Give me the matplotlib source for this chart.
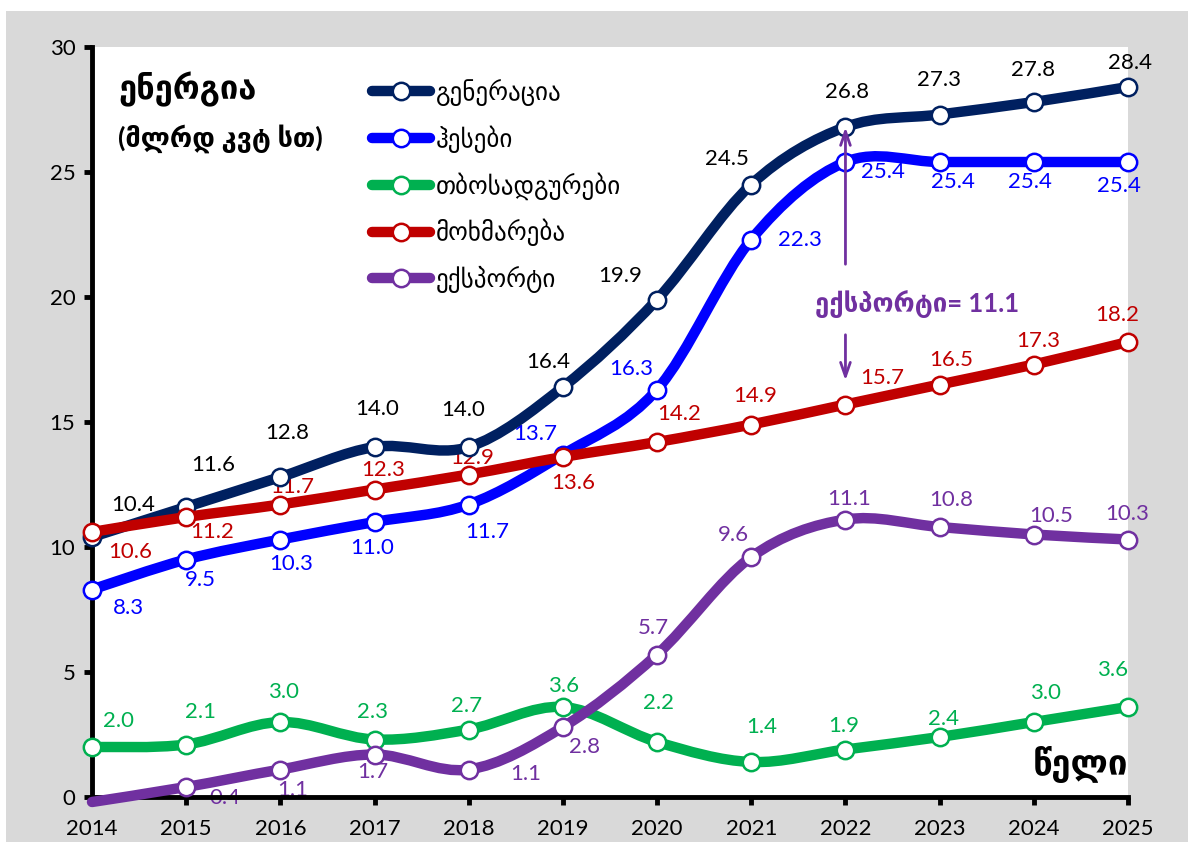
import numpy as np
import matplotlib
matplotlib.use("Agg")
import matplotlib.pyplot as plt
from matplotlib.path import Path
from matplotlib.patches import PathPatch, Rectangle
from matplotlib.lines import Line2D

plt.rcParams['font.family'] = ['Lato', 'DejaVu Sans']

years = list(range(2014, 2026))
generation = [10.4, 11.6, 12.8, 14.0, 14.0, 16.4, 19.9, 24.5, 26.8, 27.3, 27.8, 28.4]
hpp = [8.3, 9.5, 10.3, 11.0, 11.7, 13.7, 16.3, 22.3, 25.4, 25.4, 25.4, 25.4]
tpp = [2.0, 2.1, 3.0, 2.3, 2.7, 3.6, 2.2, 1.4, 1.9, 2.4, 3.0, 3.6]
consumption = [10.6, 11.2, 11.7, 12.3, 12.9, 13.6, 14.2, 14.9, 15.7, 16.5, 17.3, 18.2]
export = [-0.2, 0.4, 1.1, 1.7, 1.1, 2.8, 5.7, 9.6, 11.1, 10.8, 10.5, 10.3]

names = ['გენერაცია', 'ჰესები', 'თბოსადგურები', 'მოხმარება', 'ექსპორტი']
colors = ['#002060', '#0000ff', '#00b050', '#c00000', '#7030a0']
label_colors = ['black', '#0000ff', '#00b050', '#c00000', '#7030a0']

# label offsets from each marker, in pixels (dx, dy)
offsets = [
    [(41, 32), (27, 42), (7, 44), (3, 38), (-6, 37), (-15, 25), (-37, 24), (-24, 26), (2, 35), (-1, 35), (-1, 32), (2, 24)],
    [(36, -19), (14, -20), (11, -25), (-2, -26), (18, -27), (-28, 21), (-26, 21), (49, 0), (37, -10), (13, -20), (-4, -20), (-9, -24)],
    [(26, 26), (14, 32), (3, 30), (-2, 28), (-2, 24), (1, 21), (1, 39), (10, 35), (-2, 23), (4, 18), (12, 29), (-15, 37)],
    [(38, -20), (26, -15), (12, 18), (9, 20), (3, 17), (10, -26), (22, 28), (4, 29), (37, 27), (12, 25), (4, 24), (-11, 27)],
    [None, (39, -11), (12, -21), (-2, -17), (57, -5), (22, -20), (-4, 27), (-18, 22), (4, 21), (12, 27), (17, 18), (-1, 26)],
]


def smooth_path(x, y):
    # cubic bezier through the points, Catmull-Rom style like spreadsheet smoothing
    x = np.asarray(x, float)
    y = np.asarray(y, float)
    pts = np.column_stack([x, y])
    n = len(pts)
    verts = [pts[0]]
    codes = [Path.MOVETO]
    for i in range(n - 1):
        p0 = pts[i - 1] if i > 0 else pts[i]
        p1 = pts[i]
        p2 = pts[i + 1]
        p3 = pts[i + 2] if i + 2 < n else pts[i + 1]
        c1 = p1 + (p2 - p0) / 6.0
        c2 = p2 - (p3 - p1) / 6.0
        verts += [c1, c2, p2]
        codes += [Path.CURVE4] * 3
    return Path(verts, codes)


fig = plt.figure(figsize=(11.88, 8.42), dpi=100)
fig.patch.set_facecolor('white')
fig.patches.append(Rectangle((6 / 1188, 0), 1, 1 - 11 / 842, transform=fig.transFigure,
                             facecolor='#d9d9d9', edgecolor='none', zorder=-10))

ax = fig.add_axes([92 / 1188, 45 / 842, 1036 / 1188, 750 / 842])
ax.set_facecolor('white')
ax.set_xlim(2014, 2025)
ax.set_ylim(0, 30)

series = [generation, hpp, tpp, consumption, export]
for k, (vals, col) in enumerate(zip(series, colors)):
    patch = PathPatch(smooth_path(years, vals), facecolor='none', edgecolor=col, lw=7.5,
                      capstyle='round', joinstyle='round', zorder=3 + k, clip_on=False)
    ax.add_patch(patch)
    # points below the axis get no marker
    shown = [(yr, v) for yr, v in zip(years, vals) if v >= 0]
    ax.plot([p[0] for p in shown], [p[1] for p in shown], 'o', ms=12.5, mfc='white', mec=col,
            mew=1.8, ls='none', zorder=3.5 + k, clip_on=False)
    for i, v in enumerate(vals):
        off = offsets[k][i]
        if off is None:
            continue
        ax.annotate(f'{v:.1f}', (years[i], v), xytext=off, textcoords='offset pixels',
                    ha='center', va='center', fontsize=16, color=label_colors[k], zorder=2)

# axes styling
for s in ['top', 'right']:
    ax.spines[s].set_visible(False)
for s in ['left', 'bottom']:
    ax.spines[s].set_linewidth(3.5)
ax.set_yticks(range(0, 31, 5))
ax.set_xticks(years)
ax.tick_params(axis='both', direction='out', length=6, width=3.5, labelsize=16, pad=6)
ax.tick_params(axis='x', pad=10)

# titles
ax.text(0.025, 0.943, 'ენერგია', transform=ax.transAxes, fontsize=23.5, fontweight='bold',
        ha='left', va='center')
ax.text(0.025, 0.878, '(მლრდ კვტ სთ)', transform=ax.transAxes, fontsize=19.5, fontweight='bold',
        ha='left', va='center')
ax.text(1.0, 0.043, 'წელი', transform=ax.transAxes, fontsize=25, fontweight='bold',
        ha='right', va='center')

# export gap annotation in 2022
i22 = years.index(2022)
ax.annotate('', xy=(2022, generation[i22] + 0.1), xytext=(2022, 21.2),
            arrowprops=dict(arrowstyle='->,head_length=1.0,head_width=0.35', color='#7030a0', lw=2),
            zorder=20)
ax.annotate('', xy=(2022, consumption[i22] + 0.85), xytext=(2022, 18.6),
            arrowprops=dict(arrowstyle='->,head_length=1.0,head_width=0.35', color='#7030a0', lw=2),
            zorder=20)
ax.text(2022.76, 19.7, f'ექსპორტი= {export[i22]:.1f}', fontsize=18.5, fontweight='bold',
        color='#7030a0', ha='center', va='center', zorder=20)

# legend
handles = [Line2D([0], [0], color=c, lw=7.5, solid_capstyle='round', marker='o', ms=12.5,
                  mfc='white', mec=c, mew=1.8) for c in colors]
ax.legend(handles, names, loc='upper left', bbox_to_anchor=(0.27, 0.957), frameon=False,
          fontsize=18, handlelength=2.35, handletextpad=0.2, labelspacing=0.77,
          borderpad=0, borderaxespad=0)

fig.savefig('out.png', dpi=100, facecolor=fig.get_facecolor())
